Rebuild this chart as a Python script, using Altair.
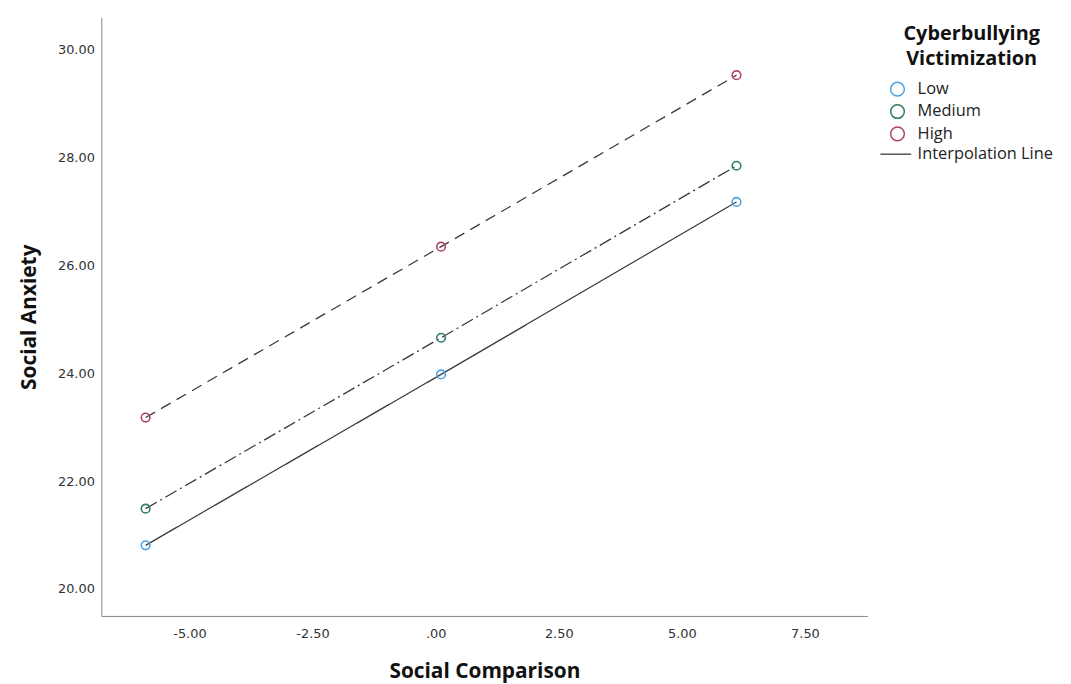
import altair as alt
import pandas as pd

social_comparison = [-5.89, 0.11, 6.11]
low = [20.81, 23.98, 27.18]
medium = [21.49, 24.66, 27.85]
high = [23.18, 26.35, 29.53]

groups = ["Low", "Medium", "High"]
legend_entries = ["Low", "Medium", "High", "Interpolation Line"]
colors = ["#4aa3e6", "#2e7b6e", "#b0436f", "#555555"]
shapes = ["circle", "circle", "circle", "M-2.5,0H2.0"]
dashes = [[1, 0], [13, 4, 2, 4], [11, 7]]

rows = []
for g, vals in zip(groups, [low, medium, high]):
    for x, y in zip(social_comparison, vals):
        rows.append({"x": x, "y": y, "group": g})
df = pd.DataFrame(rows)

font = "Open Sans"
xscale = alt.Scale(domain=[-6.79, 8.77], nice=False, zero=False)
yscale = alt.Scale(domain=[19.5, 30.6], nice=False, zero=False)

xaxis = alt.Axis(
    title="Social Comparison",
    values=[-5, -2.5, 0, 2.5, 5, 7.5],
    labelExpr="datum.value == 0 ? '.00' : (datum.value < 0 ? '-' + format(-datum.value, '.2f') : format(datum.value, '.2f'))",
    grid=False, ticks=False, labelPadding=12, titlePadding=20,
    labelFont="DejaVu Sans", labelFontSize=13, labelColor="#333333",
    titleFont=font, titleFontSize=21, titleFontWeight="bold", titleColor="#111111",
    domainColor="#888888",
)
yaxis = alt.Axis(
    title="Social Anxiety",
    values=[20, 22, 24, 26, 28, 30],
    format=".2f",
    grid=False, ticks=False, labelPadding=7, titlePadding=18,
    labelFont="DejaVu Sans", labelFontSize=13, labelColor="#333333",
    titleFont=font, titleFontSize=21, titleFontWeight="bold", titleColor="#111111",
    domainColor="#888888",
)

lines = alt.Chart(df).mark_line(color="#3a3a3a", strokeWidth=1.3).encode(
    x=alt.X("x:Q", scale=xscale, axis=xaxis),
    y=alt.Y("y:Q", scale=yscale, axis=yaxis),
    strokeDash=alt.StrokeDash("group:N", scale=alt.Scale(domain=groups, range=dashes), legend=None),
    detail="group:N",
)

legend = alt.Legend(
    title=["Cyberbullying", "Victimization"],
    orient="none", legendX=794, legendY=7,
    titleFont=font, titleFontSize=20, titleFontWeight="bold", titleColor="#111111",
    titleAlign="center", titleAnchor="middle", titleLineHeight=25, titlePadding=12,
    labelFont=font, labelFontSize=16.5, labelColor="#222222", labelOffset=12,
    symbolSize=190, symbolStrokeWidth=1.5, symbolFillColor="transparent",
    rowPadding=1.5, padding=0,
)

points = alt.Chart(df).mark_point(filled=False, size=75, strokeWidth=1.6, opacity=1).encode(
    x=alt.X("x:Q", scale=xscale),
    y=alt.Y("y:Q", scale=yscale),
    color=alt.Color("group:N", scale=alt.Scale(domain=legend_entries, range=colors), legend=legend),
    shape=alt.Shape("group:N", scale=alt.Scale(domain=legend_entries, range=shapes), legend=legend),
)

chart = alt.layer(lines, points).properties(
    width=772, height=603,
    autosize=alt.AutoSizeParams(type="none"),
    padding={"left": 94, "top": 7, "right": 197, "bottom": 66},
    background="white",
).configure_view(stroke=None)

chart.save("out.html", embed_options={"renderer": "svg", "actions": False})
